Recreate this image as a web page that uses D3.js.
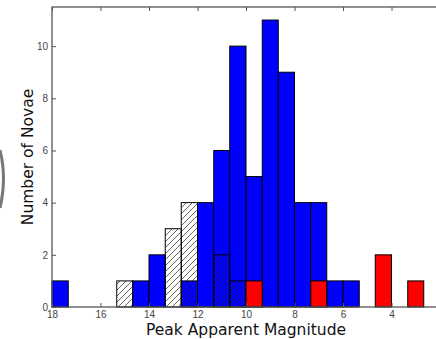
<!DOCTYPE html>
<html>
<head>
<meta charset="utf-8">
<script src="https://cdn.jsdelivr.net/npm/d3@7"></script>
<style>
  body { margin: 0; background: #fff; }
  svg { display: block; font-family: "DejaVu Sans", sans-serif; }
  .tick-label { font-size: 10px; fill: #444; }
  .axis-title { font-size: 15.5px; fill: #111; }
</style>
</head>
<body>
<div id="chart"></div>
<script>
// bin edges in magnitude (bins are 2/3 mag wide, axis reversed)
const binEdges = [18.00, 17.33, 16.67, 16.00, 15.33, 14.67, 14.00, 13.33, 12.67, 12.00,
                  11.33, 10.67, 10.00, 9.33, 8.67, 8.00, 7.33, 6.67, 6.00, 5.33,
                  4.67, 4.00, 3.33, 2.67];
const blueCounts  = [1, 0, 0, 0, 0, 1, 2, 0, 1, 4, 6, 10, 5, 11, 9, 4, 4, 1, 1, 0, 0, 0, 0];
const hatchCounts = [0, 0, 0, 0, 1, 0, 0, 3, 4, 0, 2, 1, 0, 0, 0, 0, 0, 0, 0, 0, 0, 0, 0];
const redCounts   = [0, 0, 0, 0, 0, 0, 0, 0, 0, 0, 0, 0, 1, 0, 0, 0, 1, 0, 0, 0, 2, 0, 1];
const xTicks = [18, 16, 14, 12, 10, 8, 6, 4];
const yTicks = [0, 2, 4, 6, 8, 10];

const config = {
  width: 436, height: 339,
  margin: {top: 7, right: -4, bottom: 32, left: 52}
};

const svg = d3.select("#chart").append("svg")
    .attr("width", config.width)
    .attr("height", config.height);

const innerW = config.width - config.margin.left - config.margin.right;
const innerH = config.height - config.margin.top - config.margin.bottom;

// hatch pattern
const defs = svg.append("defs");
defs.append("pattern")
    .attr("id", "hatch")
    .attr("patternUnits", "userSpaceOnUse")
    .attr("width", 6).attr("height", 6)
  .append("path")
    .attr("d", "M-1.5,1.5 l3,-3 M0,6 l6,-6 M4.5,7.5 l3,-3")
    .attr("stroke", "#222")
    .attr("stroke-width", 0.7);

// little dark arc at the left edge (crop artefact in the source)
svg.append("path")
    .attr("d", "M0,150 Q7,178 0,208")
    .attr("fill", "none")
    .attr("stroke", "#555")
    .attr("stroke-width", 3)
    .attr("opacity", 0.8);

const chart = svg.append("g")
    .attr("transform", `translate(${config.margin.left},${config.margin.top})`);

const xScale = d3.scaleLinear().domain([18, 2]).range([0, innerW]);
const yScale = d3.scaleLinear().domain([0, 11.5]).range([innerH, 0]);

function drawBars(counts, cls, fill) {
  const data = counts.map((c, i) => ({x0: binEdges[i], x1: binEdges[i + 1], n: c}))
      .filter(d => d.n > 0);
  chart.selectAll("." + cls)
      .data(data)
    .join("rect")
      .attr("class", cls)
      .attr("x", d => xScale(d.x0))
      .attr("width", d => xScale(d.x1) - xScale(d.x0))
      .attr("y", d => yScale(d.n))
      .attr("height", d => yScale(0) - yScale(d.n))
      .attr("fill", fill)
      .attr("stroke", "#000")
      .attr("stroke-width", 1);
}

drawBars(blueCounts, "bar-blue", "#0000ff");
drawBars(hatchCounts, "bar-hatch", "url(#hatch)");
drawBars(redCounts, "bar-red", "#ff0000");

// frame
const axisColor = "#555";
chart.append("rect")
    .attr("x", 0).attr("y", 0)
    .attr("width", innerW).attr("height", innerH)
    .attr("fill", "none")
    .attr("stroke", axisColor)
    .attr("stroke-width", 1.3);

// axes with inward ticks
const xAxisB = d3.axisBottom(xScale).tickValues(xTicks).tickSizeInner(-4).tickSizeOuter(0).tickPadding(4);
const xAxisT = d3.axisTop(xScale).tickValues(xTicks).tickSizeInner(-4).tickSizeOuter(0).tickFormat("");
const yAxisL = d3.axisLeft(yScale).tickValues(yTicks).tickSizeInner(-4).tickSizeOuter(0).tickPadding(4);
const yAxisR = d3.axisRight(yScale).tickValues(yTicks).tickSizeInner(-4).tickSizeOuter(0).tickFormat("");

function styleAxis(g) {
  g.select(".domain").remove();
  g.selectAll(".tick line").attr("stroke", axisColor);
  g.selectAll(".tick text").attr("class", "tick-label").attr("font-size", null).attr("font-family", null);
}

chart.append("g").attr("transform", `translate(0,${innerH})`).call(xAxisB).call(styleAxis);
chart.append("g").call(xAxisT).call(styleAxis);
chart.append("g").call(yAxisL).call(styleAxis);
chart.append("g").attr("transform", `translate(${innerW},0)`).call(yAxisR).call(styleAxis);

// axis titles
svg.append("text")
    .attr("class", "axis-title")
    .attr("x", 246)
    .attr("y", 335)
    .attr("text-anchor", "middle")
    .text("Peak Apparent Magnitude");

svg.append("text")
    .attr("class", "axis-title")
    .attr("transform", `translate(33,${config.margin.top + innerH / 2}) rotate(-90)`)
    .attr("text-anchor", "middle")
    .text("Number of Novae");
</script>
</body>
</html>
